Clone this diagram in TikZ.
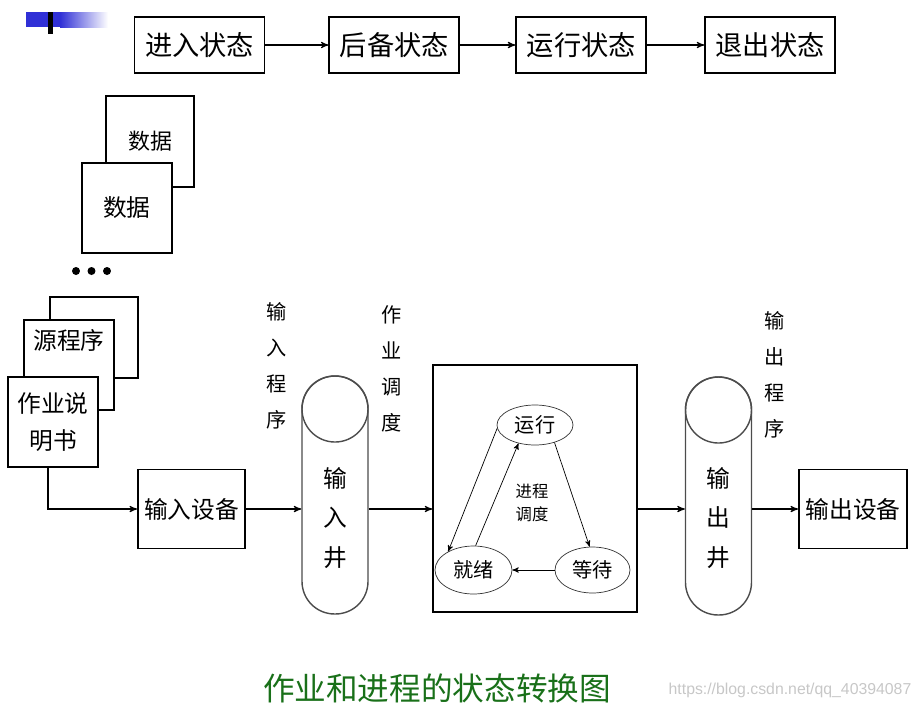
\documentclass[tikz,border=0pt]{standalone}
\usepackage{fontspec}
\setmainfont{Noto Sans CJK SC}
\setsansfont{Liberation Sans}
\usetikzlibrary{positioning}
\usetikzlibrary{arrows}
\usetikzlibrary{shapes.geometric}
\definecolor{titlegreen}{RGB}{25,112,25}
\definecolor{barblue}{RGB}{48,48,214}
\tikzset{node distance=1.2cm, % Gap between the boxes of the top row
box/.style={ % Plain boxes with a thick frame
draw,
line width=1.1pt,
fill=white,
inner sep=0pt,
font=\fontsize{15.5}{18}\selectfont},
page/.style={ % Sheets of the job deck
box,
minimum width=1.8cm,
minimum height=1.8cm,
font=\fontsize{13.5}{21}\selectfont},
well/.style={ % Input and output wells
draw=black!70,
thick,
rounded corners=0.65cm,
minimum width=1.32cm,
minimum height=4.76cm},
welltop/.style={
draw=black!70,
thick,
circle,
minimum size=1.32cm,
inner sep=0pt},
proc/.style={ % Process states
draw=black!80,
ellipse,
inner sep=0pt,
minimum height=0.86cm,
font=\fontsize{11.5}{14}\selectfont},
vtext/.style={ % Labels written top to bottom
align=center,
inner sep=0pt,
font=\fontsize{11.5}{20.5}\selectfont},
flow/.style={ % Connectors
draw,
->,>=stealth',
semithick}}

\begin{document}
\begin{tikzpicture}[x=0.02cm,y=-0.02cm]
				\useasboundingbox (0,0) rectangle (924,711);

				% corner mark
				\fill[barblue] (26,12) rectangle (60,27);
				\shade[left color=barblue,right color=white] (60,12) rectangle (108,27);
				\fill (48,12) rectangle (53,34);

				% top row
				\node[box, minimum width=2.6cm, minimum height=1.12cm] (enter) at (199.5,45) {进入状态};
				\node[box, minimum width=2.6cm, minimum height=1.12cm, right=1.26cm of enter] (backup) {后备状态};
				\node[box, minimum width=2.6cm, minimum height=1.12cm, right=1.1cm of backup] (run0) {运行状态};
				\node[box, minimum width=2.6cm, minimum height=1.12cm, right=1.14cm of run0] (quit) {退出状态};

				\draw[flow] (enter) -- (backup);
				\draw[flow] (backup) -- (run0);
				\draw[flow] (run0) -- (quit);

				% job deck
				\node[page, minimum width=1.76cm, minimum height=1.82cm, font=\fontsize{12.5}{15}\selectfont] (data2) at (150,141.5) {数据};
				\node[page] (data1) at (127,208) {数据};
				\foreach \x in {76,91.5,107}
					\fill (\x,271) circle (0.08cm);
				\node[page, minimum width=1.76cm, minimum height=1.62cm] (deck) at (94,337.5) {};
				\node[page] (src) at (69,365) {};
				\node[below=0.2cm of src.north, inner sep=0pt, font=\fontsize{13.5}{16}\selectfont] (srctext) {源程序};
				\node[page, align=center] (jobdoc) at (53,422) {作业说\\明书};

				% input side
				\node[box, minimum width=2.14cm, minimum height=1.58cm, font=\fontsize{13.5}{16}\selectfont] (indev) at (191.5,509) {输入设备};
				\node[well] (inwell) at (335,495) {};
				\node[welltop, below=0pt of inwell.north] (intop) {};
				\node[vtext, font=\fontsize{13.5}{22.5}\selectfont] (inname) at (335,518) {输\\入\\井};
				\node[vtext] (inprog) at (277,366) {输\\入\\程\\序};
				\node[vtext] (jobsched) at (392,369) {作\\业\\调\\度};

				% process states
				\node[draw, line width=0.9pt, minimum width=4.08cm, minimum height=4.94cm] (procbox) at (535,488.5) {};
				\node[proc, minimum width=1.52cm, minimum height=0.8cm] (run) at (535,425) {运行};
				\node[proc, minimum width=1.54cm, minimum height=0.96cm] (ready) at (473.5,570) {就绪};
				\node[proc, minimum width=1.5cm, minimum height=0.92cm] (wait) at (592.5,570) {等待};
				\node[align=center, inner sep=0pt, font=\fontsize{9.3}{13.5}\selectfont] (psched) at (532,503) {进程\\调度};

				\draw[flow, thin] (run.185) -- (ready.144);
				\draw[flow, thin] (ready.85) -- (run.228);
				\draw[flow, thin] (run.318) -- (wait.97);
				\draw[flow, thin] (wait.west) -- (ready.east);

				% output side
				\node[well] (outwell) at (718.5,496) {};
				\node[welltop, below=0pt of outwell.north] (outtop) {};
				\node[vtext, font=\fontsize{13.5}{22.5}\selectfont] (outname) at (718.5,518) {输\\出\\井};
				\node[vtext] (outprog) at (775,375) {输\\出\\程\\序};
				\node[box, minimum width=2.16cm, minimum height=1.58cm, font=\fontsize{13.5}{16}\selectfont] (outdev) at (853,509) {输出设备};

				\draw[flow] ([xshift=-0.1cm]jobdoc.south) |- (indev.west);
				\draw[flow] (indev.east) -- (indev.east -| inwell.west);
				\draw[flow] (indev.east -| inwell.east) -- (indev.east -| procbox.west);
				\draw[flow] (indev.east -| procbox.east) -- (indev.east -| outwell.west);
				\draw[flow] (outdev.west -| outwell.east) -- (outdev.west);

				% caption
				\node[text=titlegreen, font=\fontsize{18}{22}\selectfont] (caption) at (437,688) {作业和进程的状态转换图};
				\node[text=black!22, font=\sffamily\fontsize{9}{11}\selectfont] (mark) at (790,690) {https://blog.csdn.net/qq\_40394087};
			\end{tikzpicture}
\end{document}
